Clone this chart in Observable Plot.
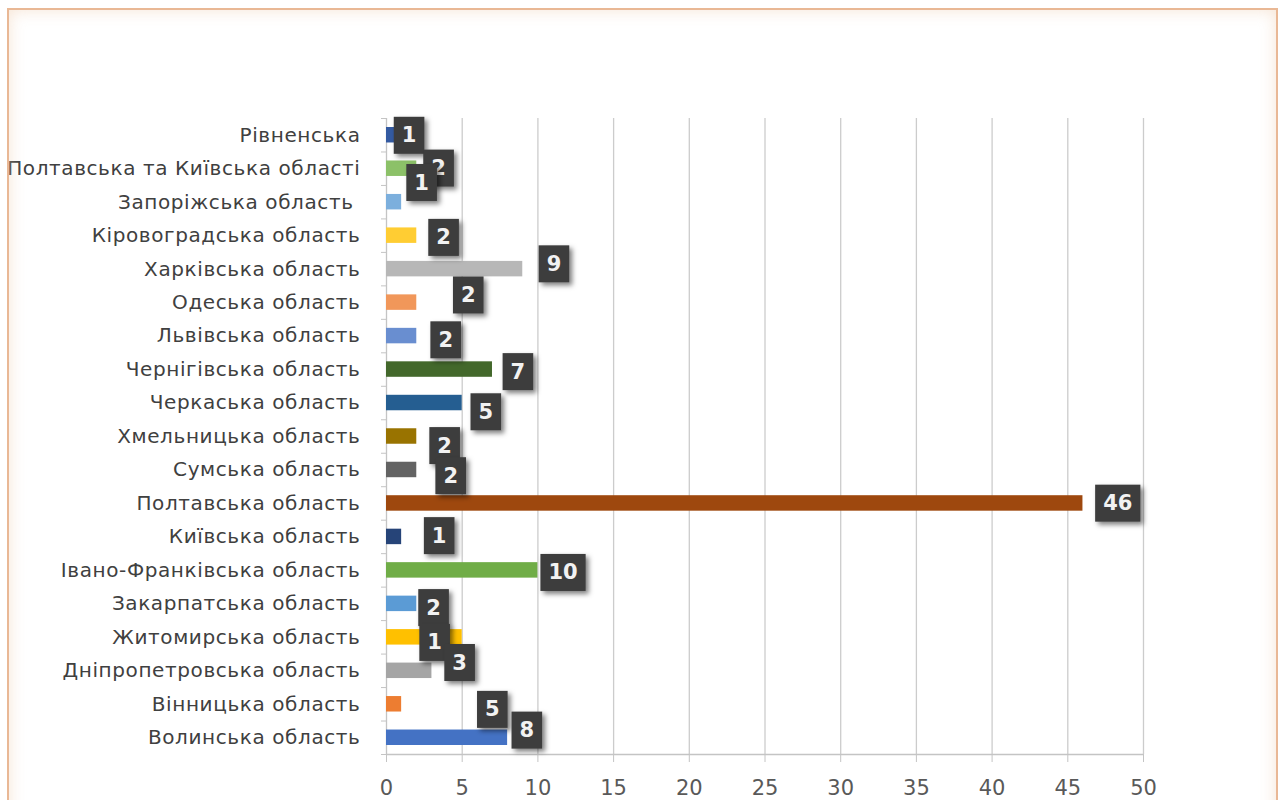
<!DOCTYPE html>
<html><head><meta charset="utf-8">
<script src="https://cdn.jsdelivr.net/npm/d3@7"></script>
<script src="https://cdn.jsdelivr.net/npm/@observablehq/plot@0.6"></script>
<style>
html,body{margin:0;padding:0;background:#fff;overflow:hidden;}
#chart{position:absolute;left:0;top:0;}
#frame{position:absolute;left:7px;top:8px;width:1267px;height:830px;border:2px solid #e9b895;box-shadow:inset 0 0 16px rgba(236,196,160,0.45);pointer-events:none;z-index:2;}
</style></head><body>
<div id="chart"></div><div id="frame"></div>
<script>
// categories, bottom to top
const regions = [
  "Волинська область",
  "Вінницька область",
  "Дніпропетровська область",
  "Житомирська область",
  "Закарпатська область",
  "Івано-Франківська область",
  "Київська область",
  "Полтавська область",
  "Сумська область",
  "Хмельницька область",
  "Черкаська область",
  "Чернігівська область",
  "Львівська область",
  "Одеська область",
  "Харківська область",
  "Кіровоградська область",
  "Запоріжська область\u00a0",
  "Полтавська та Київська області",
  "Рівненська"
];
const values = [8, 1, 3, 5, 2, 10, 1, 46, 2, 2, 5, 7, 2, 2, 9, 2, 1, 2, 1];
const barColors = [
  "#4472C4", "#ED7D31", "#A5A5A5", "#FFC000", "#5B9BD5", "#70AD47",
  "#264478", "#9E480E", "#636363", "#997300", "#255E91", "#43682B",
  "#698ED0", "#F1975A", "#B7B7B7", "#FFCD33", "#7CAFDD", "#8CC168", "#335AA1"
];
// data labels as shown in the picture, with where they sit (x in value units, y in row units)
const labelTexts = ["8", "5", "3", "1", "2", "10", "1", "46", "2", "2", "5", "7", "2", "2", "9", "2", "1", "2", "1"];
const labelAtX = [9.27, 6.99, 4.83, 3.18, 3.11, 11.66, 3.48, 48.3, 4.24, 3.84, 6.56, 8.68, 3.91, 5.40, 11.06, 3.77, 2.32, 3.44, 1.49];
const labelAtRow = [0.22, 0.84, 2.24, 2.84, 3.88, 4.93, 6.03, 7.0, 7.82, 8.72, 9.73, 10.93, 11.88, 13.22, 14.15, 14.94, 16.58, 17.01, 17.99];
const xTicks = [0, 5, 10, 15, 20, 25, 30, 35, 40, 45, 50];

const n = regions.length;
const idx = d3.range(n);
const labelOrder = idx.slice().reverse();

const plot = Plot.plot({
  width: 1280,
  height: 800,
  marginLeft: 386,
  marginRight: 137,
  marginTop: 118,
  marginBottom: 46,
  style: {background: "transparent", fontFamily: "'DejaVu Sans', sans-serif"},
  x: {domain: [0, 50]},
  y: {domain: [-0.5, n - 0.5]},
  color: {type: "identity"},
  marks: [
    Plot.ruleX(xTicks.slice(1), {stroke: "#cccccc", strokeWidth: 1.3}),
    Plot.ruleX([0], {stroke: "#c4c4c4", strokeWidth: 1.3}),
    Plot.ruleY([-0.5], {stroke: "#c4c4c4", strokeWidth: 1.3}),
    Plot.axisX({ticks: xTicks, tickSize: 8, tickPadding: 18, fontSize: 21, stroke: "#c4c4c4", fill: "#595959", tickFormat: d => String(d)}),
    Plot.axisY({ticks: idx, tickSize: 0, tickPadding: 26, fontSize: 20, fill: "#404040", tickFormat: i => regions[i]}),
    Plot.axisY({ticks: d3.range(-0.5, n, 1), tickSize: 5, tickPadding: 0, stroke: "#c4c4c4", tickFormat: () => ""}),
    Plot.rectX(idx, {
      x1: 0, x2: i => values[i],
      y1: i => i - 0.5, y2: i => i + 0.5,
      insetTop: 9, insetBottom: 9,
      fill: i => barColors[i]
    }),
    Plot.text(labelOrder, {
      x: i => labelAtX[i], y: i => labelAtRow[i],
      text: i => labelTexts[i],
      fontSize: 21, fontWeight: 700, fill: "#f2f2f2"
    })
  ]
});
document.getElementById("chart").appendChild(plot);

// dark boxes with shadow behind the data labels
const ns = "http://www.w3.org/2000/svg";
const defs = document.createElementNS(ns, "defs");
const filt = document.createElementNS(ns, "filter");
filt.setAttribute("id", "shd");
filt.setAttribute("x", "-50%"); filt.setAttribute("y", "-50%");
filt.setAttribute("width", "200%"); filt.setAttribute("height", "200%");
const fe = document.createElementNS(ns, "feDropShadow");
fe.setAttribute("dx", "3"); fe.setAttribute("dy", "3");
fe.setAttribute("stdDeviation", "2.5");
fe.setAttribute("flood-color", "#000"); fe.setAttribute("flood-opacity", "0.5");
filt.appendChild(fe); defs.appendChild(filt);
plot.insertBefore(defs, plot.firstChild);

// letter spacing of the category labels (stretched look of the original)
plot.querySelectorAll('g[aria-label="y-axis tick label"]').forEach(g => g.setAttribute("letter-spacing", "0.6"));

const labelGroups = Array.from(plot.querySelectorAll('g[aria-label="text"]'));
labelGroups.forEach(g => g.querySelectorAll("text").forEach(t => {
  const b = t.getBBox();
  const w = Math.max(b.width + 16, 28), h = 37;
  const cx = b.x + b.width / 2, cy = b.y + b.height / 2;
  const r = document.createElementNS(ns, "rect");
  r.setAttribute("x", cx - w / 2);
  r.setAttribute("y", cy - h / 2);
  r.setAttribute("width", w);
  r.setAttribute("height", h);
  r.setAttribute("fill", "#3d3d3d");
  r.setAttribute("filter", "url(#shd)");
  const tr = t.getAttribute("transform");
  if (tr) r.setAttribute("transform", tr);
  t.parentNode.insertBefore(r, t);
}));
</script>
</body></html>
